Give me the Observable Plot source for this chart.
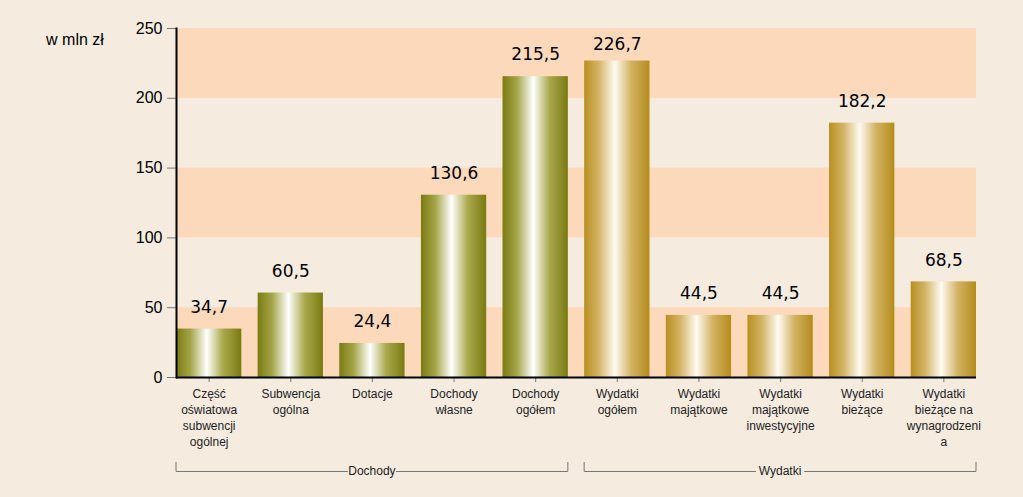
<!DOCTYPE html>
<html><head><meta charset="utf-8">
<script src="https://cdn.jsdelivr.net/npm/d3@7"></script>
<script src="https://cdn.jsdelivr.net/npm/@observablehq/plot@0.6"></script>
<style>body{margin:0;background:#f5ebdf;}</style>
</head><body><div id="chart"></div>
<script>
const labels = ["Część\noświatowa\nsubwencji\nogólnej", "Subwencja\nogólna", "Dotacje", "Dochody\nwłasne", "Dochody\nogółem", "Wydatki\nogółem", "Wydatki\nmajątkowe", "Wydatki\nmajątkowe\ninwestycyjne", "Wydatki\nbieżące", "Wydatki\nbieżące na\nwynagrodzeni\na"];
const values = [34.7, 60.5, 24.4, 130.6, 215.5, 226.7, 44.5, 44.5, 182.2, 68.5];
const groups = ["Dochody", "Dochody", "Dochody", "Dochody", "Dochody", "Wydatki", "Wydatki", "Wydatki", "Wydatki", "Wydatki"];
const groupNames = ["Dochody", "Wydatki"];
const yTicks = [0, 50, 100, 150, 200, 250];
const bandLow = [0, 100, 200];
const bandHigh = [50, 150, 250];
const unitLabel = "w mln zł";

const data = labels.map((l, i) => ({label: l, value: values[i], group: groups[i]}));
const bands = bandLow.map((b, i) => ({y1: b, y2: bandHigh[i]}));

function gradientDefs() {
  const defs = d3.create("svg:defs");
  const mk = (id, stops) => {
    const g = defs.append("linearGradient").attr("id", id).attr("x1", "0%").attr("x2", "100%").attr("y1", "0%").attr("y2", "0%");
    stops.forEach(([o, c]) => g.append("stop").attr("offset", o).attr("stop-color", c));
  };
  mk("gOlive", [["0%", "#7b7b12"], ["22%", "#a4a548"], ["47%", "#ffffff"], ["72%", "#a9a94c"], ["100%", "#7a7a12"]]);
  mk("gGold", [["0%", "#b88f1f"], ["22%", "#d3b466"], ["47%", "#fffbf2"], ["72%", "#d2b263"], ["100%", "#b58c1b"]]);
  return defs.node();
}

const plot = Plot.plot({
  width: 1023,
  height: 497,
  marginLeft: 176,
  marginRight: 47,
  marginTop: 28,
  marginBottom: 120,
  style: {background: "#f5ebdf", fontFamily: "'Liberation Sans', Arial, sans-serif", color: "#000"},
  x: {domain: labels, paddingInner: 0.2, paddingOuter: 0, round: false, label: null},
  y: {domain: [0, 250], label: null},
  marks: [
    gradientDefs,
    Plot.rect(bands, {y1: "y1", y2: "y2", fill: "#fdd9bb"}),
    Plot.barY(data.filter(d => d.group === "Dochody"), {x: "label", y: "value", fill: "url(#gOlive)"}),
    Plot.barY(data.filter(d => d.group === "Wydatki"), {x: "label", y: "value", fill: "url(#gGold)"}),
    Plot.text(data, {x: "label", y: d => Math.min(d.value + 15.5, 238.5), text: d => d.value.toFixed(1).replace(".", ","), fontSize: 17, fontFamily: "'DejaVu Sans', Verdana, sans-serif", fill: "#000", lineAnchor: "middle"}),
    Plot.axisY({ticks: yTicks, tickSize: 9, tickPadding: 5, fontSize: 16, stroke: "#777", tickFormat: d => d, fill: "#000"}),
    Plot.axisX({tickSize: 5, tickPadding: 4, fontSize: 12, lineHeight: 1.33, stroke: "#777", fill: "#222"}),
    Plot.ruleY([0], {stroke: "#000", strokeWidth: 2}),
    Plot.frame({anchor: "left", stroke: "#000", strokeWidth: 2})
  ]
});

const svg = d3.select(plot);
const x = plot.scale("x");
const bw = x.bandwidth;

svg.append("text").attr("x", 75).attr("y", 41).attr("text-anchor", "middle").attr("dominant-baseline", "middle")
  .attr("font-size", 16).attr("fill", "#000").text(unitLabel);

groupNames.forEach(gname => {
  const members = data.filter(d => d.group === gname);
  const x0 = x.apply(members[0].label);
  const x1 = x.apply(members[members.length - 1].label) + bw;
  const yL = 471.5, yT = 462;
  const mid = (x0 + x1) / 2;
  const halfText = gname.length * 3.3 + 1;
  const g = svg.append("g").attr("stroke", "#777").attr("fill", "none");
  g.append("path").attr("d", `M${x0},${yT}V${yL}H${mid - halfText}`);
  g.append("path").attr("d", `M${mid + halfText},${yL}H${x1}V${yT}`);
  svg.append("text").attr("x", mid).attr("y", yL).attr("text-anchor", "middle").attr("dominant-baseline", "middle")
    .attr("font-size", 12).attr("fill", "#222").text(gname);
});

document.getElementById("chart").appendChild(plot);
</script>
</body></html>
